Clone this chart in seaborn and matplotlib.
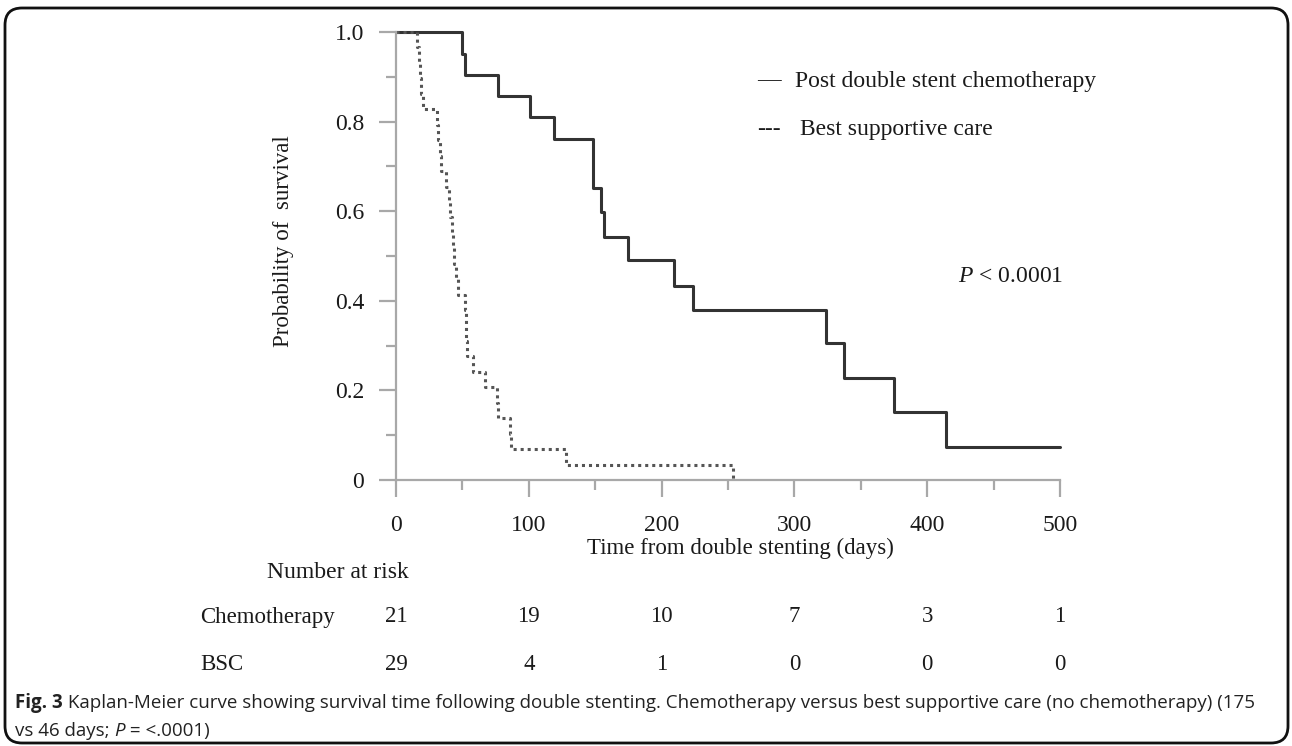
import numpy as np
import pandas as pd
import matplotlib.pyplot as plt
import seaborn as sns
from matplotlib.patches import FancyBboxPatch
from matplotlib.ticker import MultipleLocator, FixedLocator, FuncFormatter
import matplotlib.transforms as mtransforms

# Kaplan-Meier step data
chemo_days = [0, 50, 52, 77, 101, 119, 148, 154, 157, 175, 209, 224, 324, 337, 375, 414, 500]
chemo_surv = [1.0, 0.952, 0.905, 0.857, 0.810, 0.762, 0.652, 0.598, 0.543, 0.491,
              0.434, 0.379, 0.306, 0.228, 0.152, 0.074, 0.074]

bsc_days = [0, 16, 17, 18, 19, 20, 31, 32, 33, 34, 38, 40, 41, 42, 43, 44, 45, 47,
            52, 52.5, 53, 53.5, 58, 67, 76, 76.5, 86, 86.5, 128, 254]
bsc_surv = [1.0, 0.966, 0.931, 0.897, 0.862, 0.828, 0.793, 0.759, 0.724, 0.690,
            0.655, 0.621, 0.586, 0.552, 0.517, 0.483, 0.448, 0.414, 0.379, 0.345,
            0.310, 0.276, 0.241, 0.207, 0.172, 0.138, 0.103, 0.069, 0.034, 0.0]

risk_times = [0, 100, 200, 300, 400, 500]
risk_chemo = [21, 19, 10, 7, 3, 1]
risk_bsc = [29, 4, 1, 0, 0, 0]

sns.set_style('white')
plt.rcParams['font.family'] = ['Liberation Serif', 'DejaVu Serif']
plt.rcParams['mathtext.fontset'] = 'custom'
plt.rcParams['mathtext.rm'] = 'Liberation Serif'
plt.rcParams['mathtext.it'] = 'Liberation Serif:italic'

TXT = '#1a1a1a'
fig = plt.figure(figsize=(12.92, 7.46), dpi=100)
ax = fig.add_axes([396/1292, 1-480/746, 664/1292, 448/746])

chemo = pd.DataFrame({'Days': chemo_days, 'Survival': chemo_surv})
bsc = pd.DataFrame({'Days': bsc_days, 'Survival': bsc_surv})

sns.lineplot(data=chemo, x='Days', y='Survival', estimator=None, sort=False,
             drawstyle='steps-post', color='#333333', linewidth=2.2, ax=ax, clip_on=False)
sns.lineplot(data=bsc, x='Days', y='Survival', estimator=None, sort=False,
             drawstyle='steps-post', color='#555555', linewidth=2.2,
             linestyle=(0, (1, 1.3)), ax=ax, clip_on=False)

ax.set_xlim(0, 500)
ax.set_ylim(0, 1.0)
sns.despine(ax=ax)
for s in ['left', 'bottom']:
    ax.spines[s].set_color('#a8a8a8')
    ax.spines[s].set_linewidth(1.6)

ax.xaxis.set_major_locator(MultipleLocator(100))
ax.xaxis.set_minor_locator(FixedLocator([50, 150, 250, 350, 450]))
ax.yaxis.set_major_locator(FixedLocator([0, 0.2, 0.4, 0.6, 0.8, 1.0]))
ax.yaxis.set_minor_locator(FixedLocator([0.1, 0.3, 0.5, 0.7, 0.9]))
ax.yaxis.set_major_formatter(FuncFormatter(lambda v, p: '0' if abs(v) < 1e-9 else f'{v:.1f}'))
ax.tick_params(which='major', direction='out', length=12, width=1.6, color='#a8a8a8',
               labelsize=17, labelcolor=TXT)
ax.tick_params(axis='x', which='major', pad=13)
ax.tick_params(axis='y', which='major', pad=11)
ax.tick_params(which='minor', direction='out', length=7, width=1.6, color='#a8a8a8')
ax.tick_params(which='both', bottom=True, left=True)

ax.set_xlabel('Time from double stenting (days)', fontsize=16.5, color=TXT)
ax.set_ylabel('Probability of  survival', fontsize=16.5, color=TXT)
ax.xaxis.set_label_coords((740-396)/664, (480-548)/448)
ax.xaxis.label.set_va('center')
ax.yaxis.set_label_coords((283-396)/664, (480-241)/448)
ax.yaxis.label.set_va('center')

def px(x, y):
    return x/1292, 1-y/746

# legend written as text, like the original
fig.text(*px(757, 81), '\u2014', fontsize=17, va='center', ha='left', color=TXT)
fig.text(*px(795, 81), 'Post double stent chemotherapy', fontsize=17,
         va='center', ha='left', color=TXT)
fig.text(*px(757, 129), '---', fontsize=17, va='center', ha='left', color=TXT)
fig.text(*px(800, 129), 'Best supportive care', fontsize=17,
         va='center', ha='left', color=TXT)
fig.text(*px(958, 277), '$P$ < 0.0001', fontsize=17, va='center', ha='left', color=TXT)

# number at risk table
blend = mtransforms.blended_transform_factory(ax.transData, fig.transFigure)
fig.text(*px(338, 572), 'Number at risk', fontsize=17, ha='center', va='center', color=TXT)
fig.text(*px(200, 617), 'Chemotherapy', fontsize=16.5, ha='left', va='center', color=TXT)
fig.text(*px(200, 664), 'BSC', fontsize=16.5, ha='left', va='center', color=TXT)
for t, c, b in zip(risk_times, risk_chemo, risk_bsc):
    ax.text(t, 1-617/746, str(c), transform=blend, fontsize=16.5, ha='center', va='center',
            color=TXT)
    ax.text(t, 1-664/746, str(b), transform=blend, fontsize=16.5, ha='center', va='center',
            color=TXT)

# rounded frame
frame = FancyBboxPatch((0.05, 0.03), 12.83, 7.35, boxstyle='round,pad=0,rounding_size=0.17',
                       transform=fig.dpi_scale_trans, fill=False, edgecolor='#111111',
                       linewidth=2.0)
fig.patches.append(frame)

# caption
cap_font = ['Open Sans', 'DejaVu Sans']
fs = 13.5
renderer = fig.canvas.get_renderer()

def put(x, y, s, **kw):
    t = fig.text(x/1292, 1-y/746, s, fontsize=fs, family=cap_font, va='center',
                 ha='left', color='#222222', **kw)
    bb = t.get_window_extent(renderer=renderer)
    return x + bb.width

x = put(15, 703, 'Fig. 3', weight='bold')
put(x, 703, ' Kaplan-Meier curve showing survival time following double stenting. '
    'Chemotherapy versus best supportive care (no chemotherapy) (175')
x = put(15, 731, 'vs 46 days; ')
x = put(x, 731, 'P', style='italic')
put(x, 731, ' = <.0001)')

plt.savefig('out.png', dpi=100)
